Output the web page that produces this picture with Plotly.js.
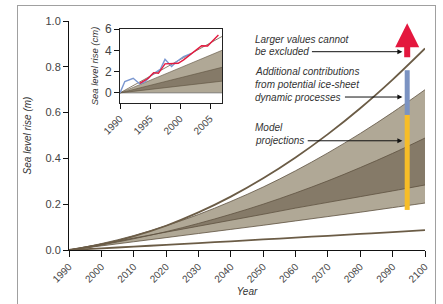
<!DOCTYPE html>
<html>
<head>
<meta charset="utf-8">
<script src="https://cdn.plot.ly/plotly-3.0.1.min.js"></script>
<style>
html,body{margin:0;padding:0;background:#fff;}
#wrap{position:relative;width:443px;height:304px;overflow:hidden;}
#chart{width:443px;height:304px;}
#frame{position:absolute;left:17px;top:5px;width:417px;height:320px;border:1.5px solid #a0a0a0;pointer-events:none;}
</style>
</head>
<body>
<div id="wrap"><div id="chart"></div><div id="frame"></div></div>
<script>
// ---- Main chart data (sea level rise, m) ----
const years = [1990, 2000, 2010, 2020, 2030, 2040, 2050, 2060, 2070, 2080, 2090, 2100];
const upperLine = [0, 0.024, 0.060, 0.106, 0.164, 0.233, 0.313, 0.404, 0.506, 0.619, 0.744, 0.880];
const lowerLine = [0, 0.007, 0.015, 0.022, 0.030, 0.038, 0.046, 0.054, 0.062, 0.070, 0.078, 0.087];
const lightLow  = [0, 0.018, 0.036, 0.054, 0.072, 0.090, 0.108, 0.127, 0.146, 0.165, 0.185, 0.205];
const lightHigh = [0, 0.028, 0.063, 0.106, 0.155, 0.212, 0.275, 0.346, 0.424, 0.509, 0.601, 0.700];
const darkLow   = [0, 0.026, 0.052, 0.078, 0.104, 0.130, 0.156, 0.183, 0.208, 0.233, 0.258, 0.284];
const darkHigh  = [0, 0.022, 0.049, 0.080, 0.116, 0.156, 0.200, 0.249, 0.302, 0.360, 0.422, 0.489];

// ---- Range bars at 2095 ----
const barYear = 2094.5;
const modelRange = [0.175, 0.59];
const iceRange = [0.59, 0.785];
const largerRange = [0.835, 0.99];

// ---- Inset data (cm) ----
const insetYears = [1990, 2007];
const insetTop = [0, 5.3];
const insetLightHigh = [0, 4.0];
const insetDarkHigh = [0, 2.4];
const insetDarkLow = [0, 1.1];
const insetLightLow = [0, 0];
const blueYears = [1990, 1990.8, 1992.2, 1993.3, 1994.2, 1995.3, 1996.7, 1997.5, 1998.6, 1999.4, 2000.6, 2001.9];
const blueVals  = [0, 1.06, 1.37, 0.84, 1.06, 1.7, 2.2, 3.15, 2.47, 2.93, 3.4, 3.7];
const redYears = [1993.3, 1994.7, 1995.6, 1996.4, 1997.5, 1998.6, 1999.7, 2000.6, 2001.7, 2003.6, 2004.6, 2006.4];
const redVals  = [0.9, 1.37, 1.9, 1.84, 2.72, 2.72, 2.78, 3.1, 3.56, 4.43, 4.4, 5.44];

const LIGHT = '#b0a896', DARK = '#857a68', EDGE = '#5e5240', MAINLINE = '#6b5c46';

const traces = [
  {x: years, y: lightLow, mode: 'lines', line: {color: EDGE, width: 0.8, shape: 'spline'}, hoverinfo: 'skip'},
  {x: years, y: lightHigh, mode: 'lines', fill: 'tonexty', fillcolor: LIGHT, line: {color: EDGE, width: 0.8, shape: 'spline'}, hoverinfo: 'skip'},
  {x: years, y: darkLow, mode: 'lines', line: {color: EDGE, width: 0.8, shape: 'spline'}, hoverinfo: 'skip'},
  {x: years, y: darkHigh, mode: 'lines', fill: 'tonexty', fillcolor: DARK, line: {color: EDGE, width: 0.8, shape: 'spline'}, hoverinfo: 'skip'},
  {x: years, y: upperLine, mode: 'lines', line: {color: MAINLINE, width: 1.8, shape: 'spline'}},
  {x: years, y: lowerLine, mode: 'lines', line: {color: MAINLINE, width: 1.8, shape: 'spline'}},
  {x: [barYear, barYear], y: modelRange, mode: 'lines', line: {color: '#f7bd27', width: 5}},
  {x: [barYear, barYear], y: iceRange, mode: 'lines', line: {color: '#7b93c2', width: 5}},
  // inset
  {x: insetYears, y: insetLightLow, xaxis: 'x2', yaxis: 'y2', mode: 'lines', line: {color: '#777', width: 0.8}},
  {x: insetYears, y: insetLightHigh, xaxis: 'x2', yaxis: 'y2', mode: 'lines', fill: 'tonexty', fillcolor: LIGHT, line: {color: EDGE, width: 0.6}},
  {x: insetYears, y: insetDarkLow, xaxis: 'x2', yaxis: 'y2', mode: 'lines', line: {color: EDGE, width: 0.6}},
  {x: insetYears, y: insetDarkHigh, xaxis: 'x2', yaxis: 'y2', mode: 'lines', fill: 'tonexty', fillcolor: DARK, line: {color: EDGE, width: 0.6}},
  {x: insetYears, y: insetTop, xaxis: 'x2', yaxis: 'y2', mode: 'lines', line: {color: MAINLINE, width: 0.8}},
  {x: blueYears, y: blueVals, xaxis: 'x2', yaxis: 'y2', mode: 'lines', line: {color: '#7b97d0', width: 1.4}},
  {x: redYears, y: redVals, xaxis: 'x2', yaxis: 'y2', mode: 'lines', line: {color: '#e4173e', width: 1.4}}
];

const tf = {family: 'Liberation Sans, Arial, sans-serif', size: 11, color: '#444'};
const af = {family: 'Liberation Sans, Arial, sans-serif', size: 10, color: '#333', style: 'italic'};

function textNote(text, y) {
  return {xref: 'x', yref: 'y', x: 2047, y: y, text: text, showarrow: false, xanchor: 'left', yanchor: 'middle', align: 'left', font: af};
}
function pointer(y, fromYear) {
  return {xref: 'x', yref: 'y', axref: 'x', ayref: 'y', x: 2093, y: y, ax: fromYear, ay: y, text: '', showarrow: true, arrowhead: 2, arrowsize: 1, arrowwidth: 1, arrowcolor: '#111'};
}

const layout = {
  width: 443, height: 304, autosize: false,
  margin: {l: 69, r: 18, t: 21, b: 54},
  paper_bgcolor: '#fff', plot_bgcolor: 'rgba(0,0,0,0)',
  showlegend: false,
  font: tf,
  xaxis: {
    range: [1990, 2100], dtick: 10, tick0: 1990, tickangle: -45,
    showgrid: false, zeroline: false, showline: true, linecolor: '#111', linewidth: 1,
    ticks: 'outside', ticklen: 6, tickcolor: '#111', tickfont: {family: tf.family, size: 10, color: '#444'},
    title: {text: 'Year', font: af, standoff: 4}
  },
  yaxis: {
    range: [0, 1.0], dtick: 0.2, tickformat: '.1f',
    showgrid: false, zeroline: false, showline: true, linecolor: '#111', linewidth: 1,
    ticks: 'outside', ticklen: 5, tickcolor: '#111', tickfont: tf,
    title: {text: 'Sea level rise (m)', font: af, standoff: 12}
  },
  xaxis2: {
    domain: [0.1433, 0.4298], anchor: 'y2', range: [1990, 2007], dtick: 5, tick0: 1990, tickangle: -45,
    showgrid: false, zeroline: false, showline: true, mirror: true, linecolor: '#222', linewidth: 1,
    ticks: 'outside', ticklen: 5, tickcolor: '#111', tickfont: {family: tf.family, size: 10, color: '#444'}
  },
  yaxis2: {
    domain: [0.642, 0.965], anchor: 'x2', range: [-0.95, 6], dtick: 2,
    showgrid: false, zeroline: false, showline: true, mirror: true, linecolor: '#222', linewidth: 1,
    ticks: 'outside', ticklen: 5, tickcolor: '#111', tickfont: {family: tf.family, size: 12, color: '#444'},
    title: {text: 'Sea level rise (cm)', font: {family: af.family, size: 9.5, color: '#333', style: 'italic'}, standoff: 4}
  },
  annotations: [
    textNote('Larger values cannot', 0.918),
    textNote('be excluded', 0.866),
    textNote('Additional contributions', 0.78),
    textNote('from potential ice-sheet', 0.723),
    textNote('dynamic processes', 0.668),
    textNote('Model', 0.535),
    textNote('projections', 0.477),
    pointer(0.866, 2064.6),
    pointer(0.668, 2074.8),
    pointer(0.477, 2063.3),
    {xref: 'x', yref: 'y', axref: 'x', ayref: 'y', x: barYear, y: largerRange[1], ax: barYear, ay: largerRange[0], text: '', showarrow: true, arrowhead: 2, arrowsize: 0.8, arrowwidth: 6, arrowcolor: '#e4173e'}
  ]
};

Plotly.newPlot('chart', traces, layout, {displayModeBar: false, staticPlot: true});
</script>
</body>
</html>
